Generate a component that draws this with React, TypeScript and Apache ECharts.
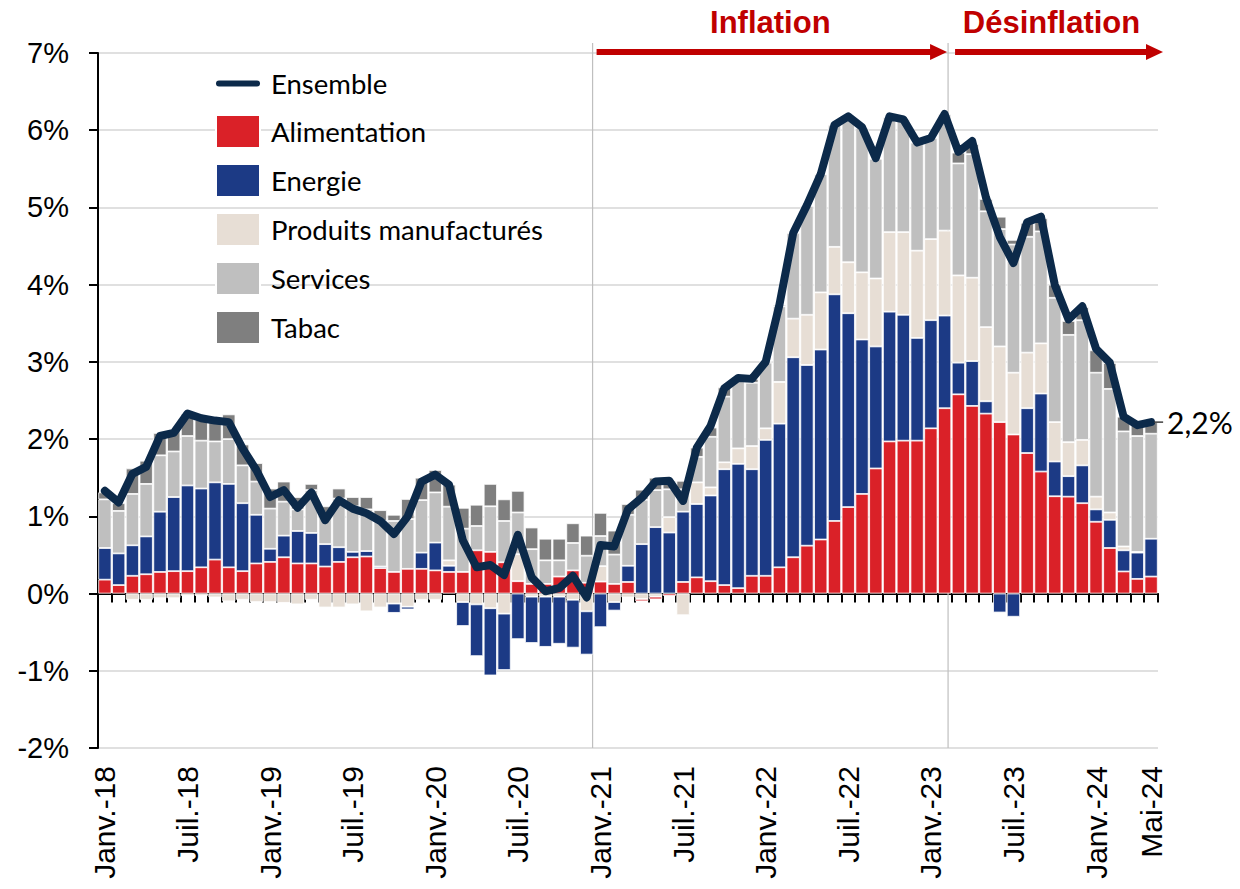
import React, { useEffect, useRef } from 'react';
import * as echarts from 'echarts';

const monthNames = ['Janv.', 'Févr.', 'Mars', 'Avr.', 'Mai', 'Juin', 'Juil.', 'Août', 'Sept.', 'Oct.', 'Nov.', 'Déc.'];
const years = ['18', '19', '20', '21', '22', '23', '24'];
const categories: string[] = [];
years.forEach((y) => {
  monthNames.forEach((m, i) => {
    if (y === '24' && i > 4) return;
    categories.push(m + '-' + y);
  });
});

const alimentation = [
  0.18, 0.11, 0.23, 0.25, 0.28, 0.29, 0.29, 0.34, 0.44, 0.34, 0.29, 0.39,
  0.41, 0.47, 0.39, 0.39, 0.35, 0.41, 0.47, 0.48, 0.33, 0.28, 0.32, 0.32,
  0.30, 0.28, 0.28, 0.56, 0.54, 0.405, 0.16, 0.125, 0.125, 0.22, 0.30, 0.14,
  0.155, 0.125, 0.15, -0.03, -0.035, -0.03, 0.15, 0.21, 0.16, 0.11, 0.07, 0.23,
  0.23, 0.34, 0.47, 0.62, 0.70, 0.94, 1.12, 1.29, 1.62, 1.97, 1.98, 1.98,
  2.14, 2.40, 2.58, 2.43, 2.33, 2.22, 2.06, 1.82, 1.58, 1.26, 1.255, 1.17,
  0.93, 0.59, 0.286, 0.19, 0.22,
];

const energie = [
  0.41, 0.41, 0.395, 0.49, 0.78, 0.96, 1.11, 1.02, 1.00, 1.08, 0.88, 0.63,
  0.17, 0.28, 0.42, 0.395, 0.29, 0.19, 0.07, 0.07, 0.02, -0.12, -0.035, 0.21,
  0.36, 0.08, -0.31, -0.67, -0.87, -0.73, -0.59, -0.60, -0.65, -0.61, -0.62, -0.56,
  -0.435, -0.11, 0.21, 0.64, 0.86, 0.79, 0.91, 0.95, 1.11, 1.50, 1.61, 1.38,
  1.76, 1.86, 2.59, 2.34, 2.46, 2.935, 2.51, 2.00, 1.58, 1.68, 1.63, 1.33,
  1.40, 1.20, 0.41, 0.58, 0.16, -0.245, -0.30, 0.58, 1.01, 0.45, 0.265, 0.49,
  0.16, 0.365, 0.274, 0.34, 0.49,
];

const manufactures = [
  0, 0, -0.08, -0.08, -0.06, -0.06, -0.03, -0.03, -0.05, -0.10, -0.08, -0.11,
  -0.11, -0.12, -0.14, -0.08, -0.18, -0.18, -0.14, -0.23, -0.18, -0.13, -0.17, -0.08,
  -0.08, 0.07, -0.11, -0.14, -0.19, -0.26, 0.35, -0.04, -0.04, -0.04, -0.08, -0.23,
  0.20, -0.11, -0.05, -0.07, -0.04, 0.20, -0.28, 0.28, 0.105, 0.09, 0.20, 0.30,
  0.15, 0.54, 0.50, 0.65, 0.74, 0.615, 0.66, 0.87, 0.88, 1.03, 1.07, 1.13,
  1.05, 1.10, 1.13, 1.08, 0.96, 0.98, 0.80, 0.72, 0.65, 0.51, 0.44, 0.33,
  0.165, 0.095, 0.05, 0.01, 0,
];

const services = [
  0.63, 0.55, 0.665, 0.68, 0.73, 0.59, 0.64, 0.62, 0.53, 0.58, 0.49, 0.43,
  0.52, 0.44, 0.28, 0.555, 0.36, 0.63, 0.59, 0.54, 0.59, 0.66, 0.645, 0.68,
  0.65, 0.695, 0.56, 0.315, 0.59, 0.535, 0.54, 0.45, 0.305, 0.21, 0.355, 0.35,
  0.39, 0.38, 0.66, 0.575, 0.48, 0.36, 0.29, 0.33, 0.655, 0.85, 0.87, 0.82,
  0.85, 0.98, 1.11, 1.41, 1.53, 1.58, 1.88, 1.87, 1.55, 1.49, 1.46, 1.40,
  1.31, 1.51, 1.45, 1.60, 1.50, 1.52, 1.66, 1.50, 1.45, 1.61, 1.39, 1.55,
  1.605, 1.60, 1.49, 1.50, 1.36,
];

const tabac = [
  0.09, 0.10, 0.33, 0.30, 0.29, 0.28, 0.29, 0.27, 0.28, 0.32, 0.27, 0.24,
  0.26, 0.26, 0.16, 0.08, 0.13, 0.13, 0.12, 0.16, 0.14, 0.08, 0.26, 0.29,
  0.29, 0.285, 0.27, 0.275, 0.29, 0.28, 0.28, 0.28, 0.28, 0.28, 0.255, 0.26,
  0.30, 0.31, 0.14, 0.13, 0.16, 0.11, 0.11, 0.12, 0.12, 0.12, 0.05, 0.05,
  0.02, 0.02, 0, 0, 0, 0, 0, 0, 0, 0, 0, 0,
  0, 0, 0.14, 0.13, 0.16, 0.16, 0.06, 0.18, 0.17, 0.17, 0.18, 0.17,
  0.29, 0.335, 0.19, 0.17, 0.15,
];

const ensemble = [
  1.33, 1.18, 1.55, 1.64, 2.04, 2.08, 2.33, 2.27, 2.24, 2.22, 1.88, 1.60,
  1.25, 1.34, 1.11, 1.31, 0.95, 1.21, 1.10, 1.04, 0.94, 0.77, 1.00, 1.45,
  1.54, 1.41, 0.69, 0.34, 0.37, 0.24, 0.76, 0.21, 0.03, 0.07, 0.23, -0.05,
  0.63, 0.61, 1.09, 1.24, 1.45, 1.46, 1.20, 1.89, 2.17, 2.66, 2.79, 2.78,
  3.00, 3.74, 4.67, 5.03, 5.43, 6.07, 6.18, 6.04, 5.64, 6.18, 6.14, 5.84,
  5.90, 6.21, 5.72, 5.86, 5.13, 4.62, 4.28, 4.81, 4.88, 4.00, 3.55, 3.72,
  3.17, 2.99, 2.29, 2.18, 2.22,
];

const yTicks = { min: -2, max: 7, interval: 1 };
const endLabel = '2,2%';
const periodLabels = ['Inflation', 'Désinflation'];

const COLORS = {
  alim: '#DA2128',
  energie: '#1C3A85',
  manuf: '#E7DED5',
  services: '#BFBFBF',
  tabac: '#7F7F7F',
  ensemble: '#0C2A4A',
  accent: '#C00000',
};

const nz = (arr: number[], f: (v: number) => boolean) => arr.map((v) => (v !== 0 && f(v) ? v : '-'));

export default function App() {
  const ref = useRef<HTMLDivElement>(null);

  useEffect(() => {
    document.body.style.margin = '0';
    if (!ref.current) return;
    const chart = echarts.init(ref.current, null, { renderer: 'svg' });

    const barBase = {
      type: 'bar' as const,
      stack: 'total',
      barCategoryGap: '4%',
      xAxisIndex: 0,
      yAxisIndex: 0,
      emphasis: { disabled: true },
      itemStyle: { borderColor: '#ffffff', borderWidth: 0.8 },
    };
    const lineIcon = 'path://M3,0L41,0A3,3,0,0,1,41,6L3,6A3,3,0,0,1,3,0Z';

    chart.setOption({
      animation: false,
      grid: { left: 98, right: 82, top: 53, bottom: 141, containLabel: false },
      legend: {
        orient: 'vertical',
        left: 210,
        top: 62,
        itemWidth: 44,
        itemHeight: 33,
        itemGap: 14,
        selectedMode: false,
        textStyle: { fontFamily: 'Lato', fontSize: 27.5, lineHeight: 33, color: '#000', padding: [0, 0, 0, 6] },
        data: [
          { name: 'Ensemble', icon: lineIcon },
          { name: 'Alimentation', icon: 'rect' },
          { name: 'Energie', icon: 'rect' },
          { name: 'Produits manufacturés', icon: 'rect' },
          { name: 'Services', icon: 'rect' },
          { name: 'Tabac', icon: 'rect' },
        ],
      },
      xAxis: [
        {
          type: 'category',
          data: categories,
          position: 'bottom',
          boundaryGap: true,
          axisLine: { show: false, onZero: false },
          axisTick: { show: false },
          axisLabel: {
            interval: (i: number) => i % 6 === 0 || i === categories.length - 1,
            rotate: 90,
            margin: 18,
            fontFamily: 'Liberation Sans, Arial',
            fontSize: 30,
            color: '#000',
          },
        },
        {
          type: 'category',
          data: categories,
          position: 'bottom',
          boundaryGap: true,
          axisLine: { show: true, onZero: true, onZeroAxisIndex: 0, lineStyle: { color: '#000', width: 2 } },
          axisTick: { show: true, interval: 0, length: 9, inside: false, lineStyle: { color: '#000', width: 2 } },
          axisLabel: { show: false },
        },
      ],
      yAxis: {
        type: 'value',
        min: yTicks.min,
        max: yTicks.max,
        interval: yTicks.interval,
        axisLine: { show: true, lineStyle: { color: '#000', width: 2 } },
        axisTick: { show: true, length: 9, lineStyle: { color: '#000', width: 2 } },
        axisLabel: {
          formatter: (v: number) => `${v}%`,
          fontFamily: 'Liberation Sans, Arial',
          fontSize: 29,
          color: '#000',
          margin: 29,
        },
        splitLine: { show: true, lineStyle: { color: '#D6D6D6', width: 1.5 } },
      },
      series: [
        { ...barBase, name: 'Produits manufacturés', data: nz(manufactures, (v) => v < 0), itemStyle: { ...barBase.itemStyle, color: COLORS.manuf } },
        { ...barBase, name: 'Alimentation', data: nz(alimentation, () => true), itemStyle: { ...barBase.itemStyle, color: COLORS.alim } },
        { ...barBase, name: 'Energie', data: nz(energie, () => true), itemStyle: { ...barBase.itemStyle, color: COLORS.energie } },
        { ...barBase, name: 'Produits manufacturés', data: nz(manufactures, (v) => v > 0), itemStyle: { ...barBase.itemStyle, color: COLORS.manuf } },
        { ...barBase, name: 'Services', data: nz(services, () => true), itemStyle: { ...barBase.itemStyle, color: COLORS.services } },
        { ...barBase, name: 'Tabac', data: nz(tabac, () => true), itemStyle: { ...barBase.itemStyle, color: COLORS.tabac } },
        {
          type: 'line',
          name: 'Ensemble',
          data: ensemble,
          xAxisIndex: 0,
          yAxisIndex: 0,
          symbol: 'none',
          z: 5,
          color: COLORS.ensemble,
          itemStyle: { color: COLORS.ensemble },
          lineStyle: { color: COLORS.ensemble, width: 8, cap: 'round', join: 'round' },
          emphasis: { disabled: true },
        },
      ],
    });

    const px = (i: number, v: number) => chart.convertToPixel({ xAxisIndex: 0, yAxisIndex: 0 }, [i, v]) as number[];
    const band = px(1, 0)[0] - px(0, 0)[0];
    const yTop = px(0, yTicks.max)[1];
    const yBot = px(0, yTicks.min)[1];
    const xRight = px(categories.length - 1, 0)[0] + band / 2;
    const v1 = (px(35, 0)[0] + px(36, 0)[0]) / 2 - 1;
    const v2 = px(61, 0)[0] + band * 0.25;
    const arrowY = yTop - 1;
    const xEnd = xRight + 5;
    const last = px(ensemble.length - 1, ensemble[ensemble.length - 1]);

    const arrow = (x1: number, x2: number) => [
      { type: 'line', shape: { x1, y1: arrowY, x2: x2 - 14, y2: arrowY }, style: { stroke: COLORS.accent, lineWidth: 6 }, z: 20 },
      { type: 'polygon', shape: { points: [[x2 - 17, arrowY - 8], [x2, arrowY], [x2 - 17, arrowY + 8]] }, style: { fill: COLORS.accent }, z: 20 },
    ];

    chart.setOption({
      graphic: [
        { type: 'line', shape: { x1: v1, y1: yTop - 10, x2: v1, y2: yBot }, style: { stroke: '#BFBFBF', lineWidth: 1.2 }, z: 1 },
        { type: 'line', shape: { x1: v2, y1: yTop - 10, x2: v2, y2: yBot }, style: { stroke: '#BFBFBF', lineWidth: 1.2 }, z: 1 },
        ...arrow(v1 + 4, v2 - 1),
        ...arrow(v2 + 7, xEnd),
        {
          type: 'text', x: (v1 + v2) / 2, y: 22, z: 20,
          style: { text: periodLabels[0], fill: COLORS.accent, font: 'bold 31px "Liberation Sans", Arial', align: 'center', verticalAlign: 'middle' },
        },
        {
          type: 'text', x: (v2 + xEnd) / 2 - 4, y: 22, z: 20,
          style: { text: periodLabels[1], fill: COLORS.accent, font: 'bold 31px "Liberation Sans", Arial', align: 'center', verticalAlign: 'middle' },
        },
        { type: 'line', shape: { x1: last[0] + 3, y1: last[1], x2: last[0] + 12, y2: last[1] }, style: { stroke: '#404040', lineWidth: 1.5 }, z: 20 },
        {
          type: 'text', x: last[0] + 16, y: last[1], z: 20,
          style: { text: endLabel, fill: '#000', font: '30px Lato', align: 'left', verticalAlign: 'middle' },
        },
      ],
    });

    return () => chart.dispose();
  }, []);

  return <div ref={ref} style={{ width: 1240, height: 889 }} />;
}
